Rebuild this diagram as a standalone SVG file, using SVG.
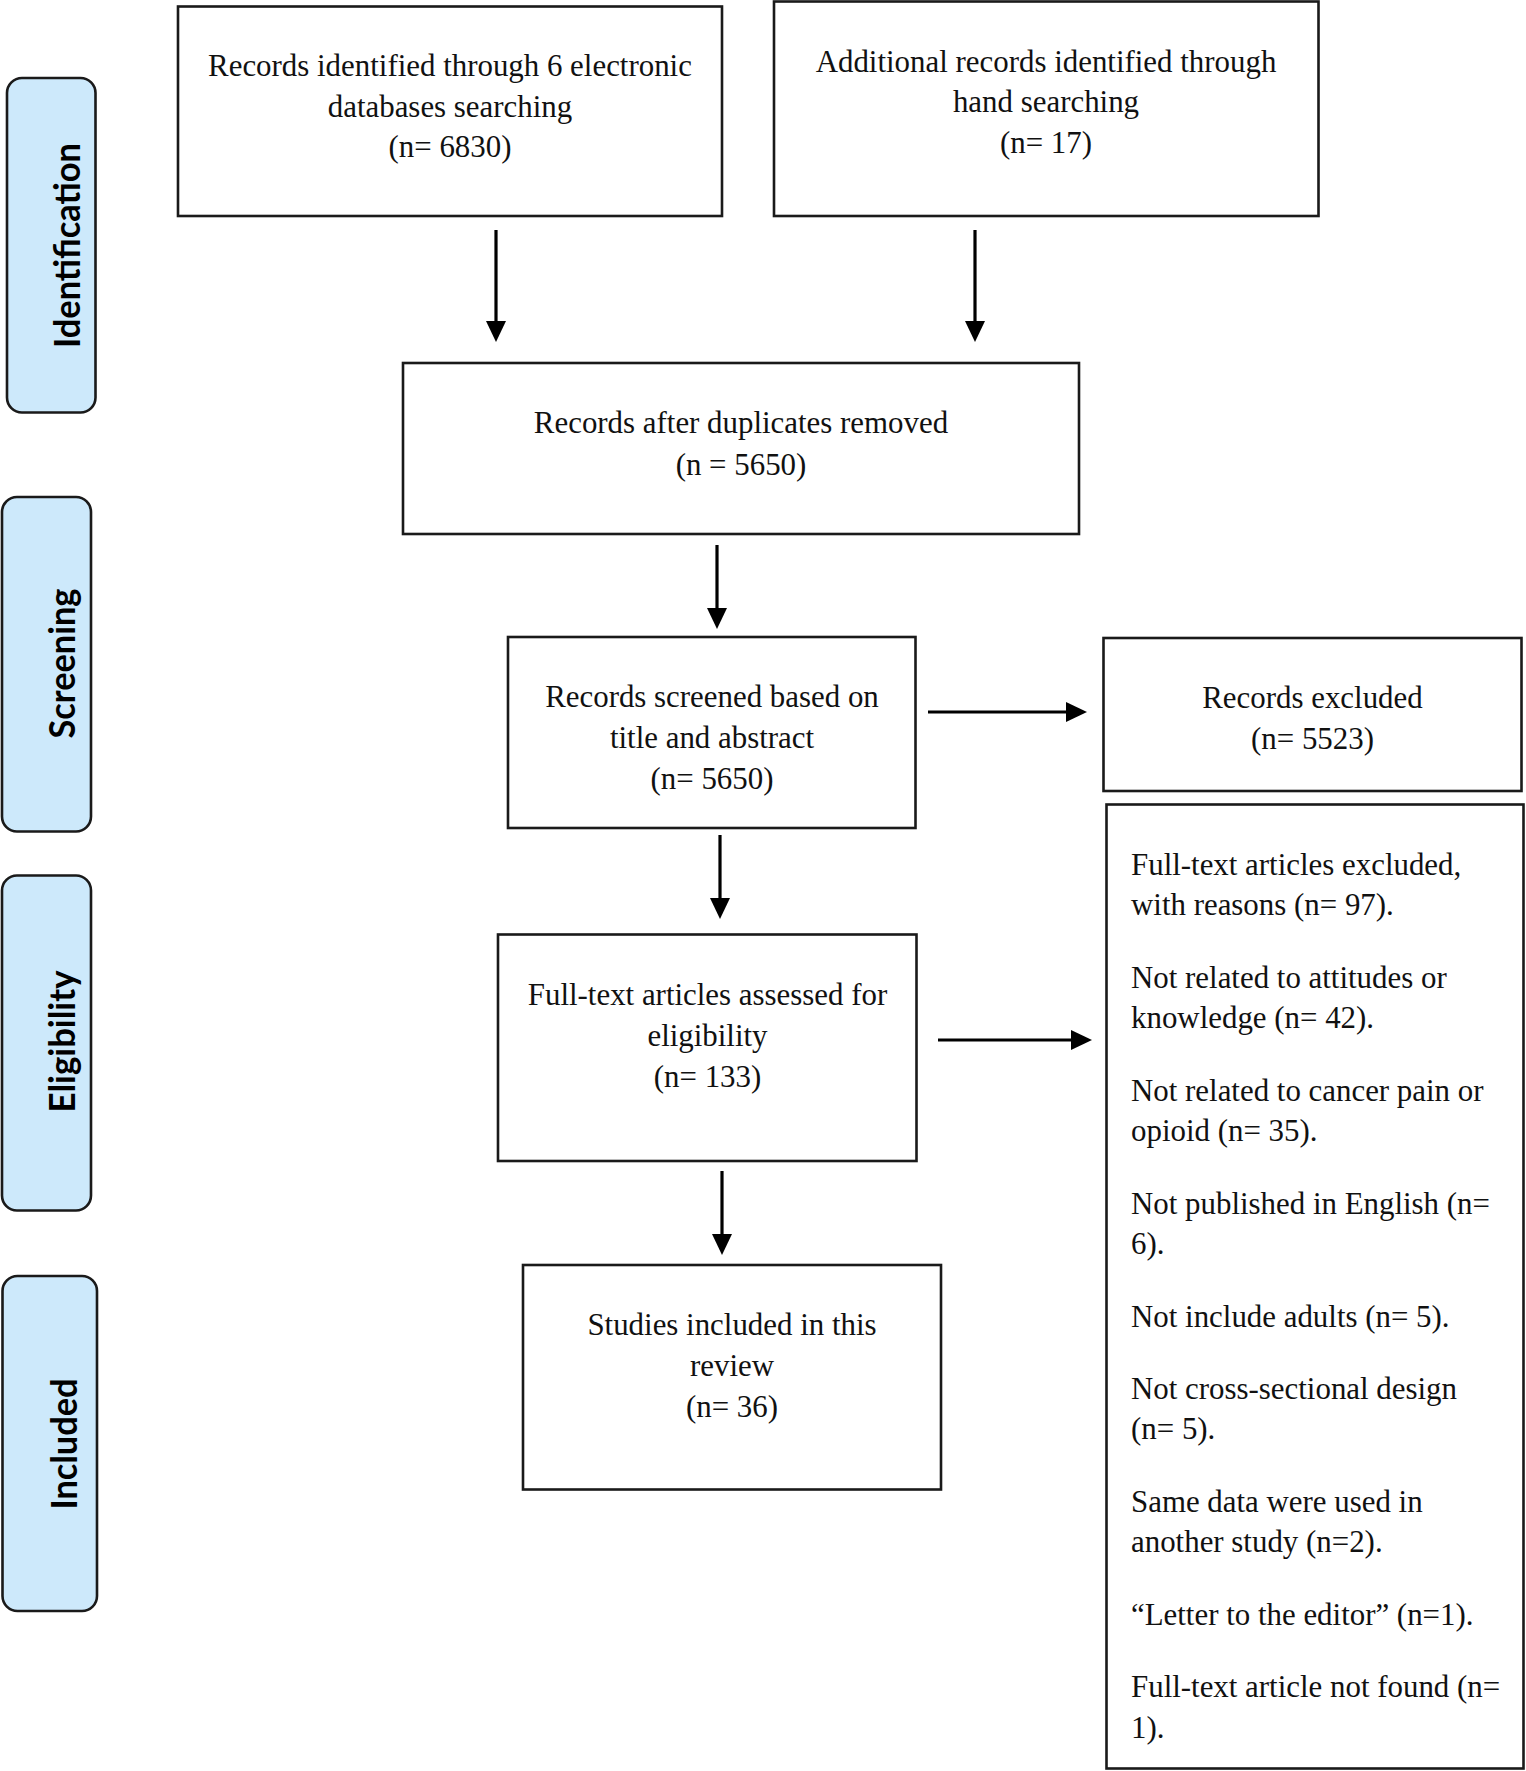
<svg xmlns="http://www.w3.org/2000/svg" width="1526" height="1771" viewBox="0 0 1526 1771">
<style>
.bg{fill:#ffffff}
.box{fill:#ffffff;stroke:#1a1a1a;stroke-width:2.6}
.side{fill:#cde9fb;stroke:#1a1a1a;stroke-width:2.6}
.t{font-family:"Liberation Serif","Times New Roman",serif;font-size:30.9px;fill:#111}
.c{text-anchor:middle}
.lab{font-family:Lato,"Open Sans","DejaVu Sans",sans-serif;font-weight:bold;font-size:36px;fill:#000;text-anchor:middle}
.ln{stroke:#000;stroke-width:3.2;fill:none}
</style>
<defs>
<marker id="ah" markerUnits="userSpaceOnUse" markerWidth="24" markerHeight="24" viewBox="0 -12 24 24" refX="2" refY="0" orient="auto">
<path d="M0,-10 L21,0 L0,10 Z" fill="#000"/>
</marker>
</defs>
<rect class="bg" x="0" y="0" width="1526" height="1771"/>

<g id="lab-identification">
<rect class="side" x="7" y="78" width="88.5" height="334.5" rx="15" ry="15"/>
<text class="lab" transform="translate(80,245.5) rotate(-90)" textLength="205" lengthAdjust="spacingAndGlyphs">Identification</text>
</g>
<g id="lab-screening">
<rect class="side" x="2" y="497" width="89" height="334.5" rx="15" ry="15"/>
<text class="lab" transform="translate(74.5,663.5) rotate(-90)" textLength="150" lengthAdjust="spacingAndGlyphs">Screening</text>
</g>
<g id="lab-eligibility">
<rect class="side" x="2" y="875.5" width="89" height="335" rx="15" ry="15"/>
<text class="lab" transform="translate(74.5,1041.5) rotate(-90)" textLength="142" lengthAdjust="spacingAndGlyphs">Eligibility</text>
</g>
<g id="lab-included">
<rect class="side" x="2.5" y="1276" width="94.5" height="335" rx="15" ry="15"/>
<text class="lab" transform="translate(76.5,1444) rotate(-90)" textLength="131" lengthAdjust="spacingAndGlyphs">Included</text>
</g>

<g id="node-databases">
<rect class="box" x="178" y="6.5" width="544" height="209.5"/>
<text class="t c" x="450" y="76">Records identified through 6 electronic</text>
<text class="t c" x="450" y="116.5">databases searching</text>
<text class="t c" x="450" y="157">(n= 6830)</text>
</g>
<g id="node-hand">
<rect class="box" x="774" y="1.5" width="544.5" height="214.5"/>
<text class="t c" x="1046" y="71.5">Additional records identified through</text>
<text class="t c" x="1046" y="112">hand searching</text>
<text class="t c" x="1046" y="153">(n= 17)</text>
</g>
<g id="node-duplicates">
<rect class="box" x="403" y="363" width="676" height="171"/>
<text class="t c" x="741" y="432.5">Records after duplicates removed</text>
<text class="t c" x="741" y="474.5">(n = 5650)</text>
</g>
<g id="node-screened">
<rect class="box" x="508" y="637" width="407.5" height="191"/>
<text class="t c" x="712" y="707">Records screened based on</text>
<text class="t c" x="712" y="748">title and abstract</text>
<text class="t c" x="712" y="789">(n= 5650)</text>
</g>
<g id="node-excluded">
<rect class="box" x="1103.5" y="638" width="418" height="153"/>
<text class="t c" x="1312.5" y="707.5">Records excluded</text>
<text class="t c" x="1312.5" y="749">(n= 5523)</text>
</g>
<g id="node-fulltext">
<rect class="box" x="498" y="934.5" width="418.5" height="226.5"/>
<text class="t c" x="707.5" y="1004.5">Full-text articles assessed for</text>
<text class="t c" x="707.5" y="1045.5">eligibility</text>
<text class="t c" x="707.5" y="1087">(n= 133)</text>
</g>
<g id="node-reasons">
<rect class="box" x="1106.5" y="804.5" width="417" height="964"/>
<text class="t" x="1131" y="874.7">Full-text articles excluded,</text>
<text class="t" x="1131" y="915.4">with reasons (n= 97).</text>
<text class="t" x="1131" y="987.6">Not related to attitudes or</text>
<text class="t" x="1131" y="1028.3">knowledge (n= 42).</text>
<text class="t" x="1131" y="1100.6">Not related to cancer pain or</text>
<text class="t" x="1131" y="1141.3">opioid (n= 35).</text>
<text class="t" x="1131" y="1213.5">Not published in English (n=</text>
<text class="t" x="1131" y="1254.2">6).</text>
<text class="t" x="1131" y="1326.5">Not include adults (n= 5).</text>
<text class="t" x="1131" y="1398.8">Not cross-sectional design</text>
<text class="t" x="1131" y="1439.4">(n= 5).</text>
<text class="t" x="1131" y="1511.7">Same data were used in</text>
<text class="t" x="1131" y="1552.4">another study (n=2).</text>
<text class="t" x="1131" y="1624.7">“Letter to the editor” (n=1).</text>
<text class="t" x="1131" y="1697">Full-text article not found (n=</text>
<text class="t" x="1131" y="1737.6">1).</text>
</g>
<g id="node-included">
<rect class="box" x="523" y="1265" width="418" height="224.5"/>
<text class="t c" x="732" y="1334.5">Studies included in this</text>
<text class="t c" x="732" y="1375.5">review</text>
<text class="t c" x="732" y="1417">(n= 36)</text>
</g>

<g id="connectors">
<line class="ln" x1="496" y1="230" x2="496" y2="323" marker-end="url(#ah)"/>
<line class="ln" x1="975" y1="230" x2="975" y2="323" marker-end="url(#ah)"/>
<line class="ln" x1="717" y1="545" x2="717" y2="610" marker-end="url(#ah)"/>
<line class="ln" x1="720" y1="835" x2="720" y2="900" marker-end="url(#ah)"/>
<line class="ln" x1="722" y1="1171" x2="722" y2="1236" marker-end="url(#ah)"/>
<line class="ln" x1="928" y1="712" x2="1068" y2="712" marker-end="url(#ah)"/>
<line class="ln" x1="938" y1="1040" x2="1073" y2="1040" marker-end="url(#ah)"/>
</g>
</svg>
